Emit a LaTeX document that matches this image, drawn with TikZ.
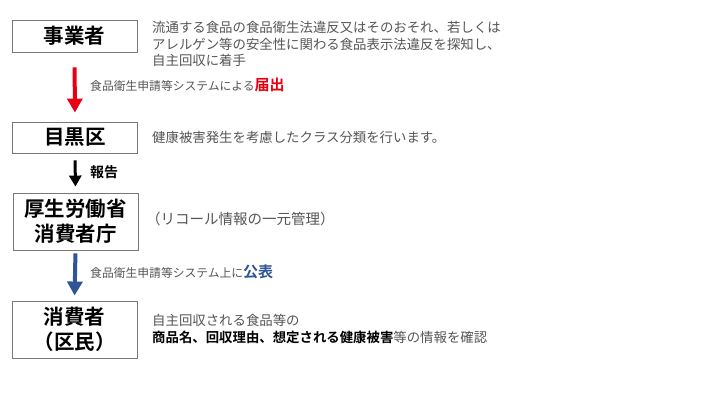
\documentclass[tikz,border=0pt]{standalone}
\usepackage{fontspec}
\setmainfont{Noto Sans CJK JP}[BoldFont={Noto Sans CJK JP Bold}]
\usepackage{tikz}
\usetikzlibrary{calc,arrows.meta}
\definecolor{txtgray}{RGB}{85,85,85}
\definecolor{boxgray}{RGB}{120,120,120}
\definecolor{todokered}{RGB}{230,0,18}
\definecolor{koublue}{RGB}{47,85,151}

\begin{document}
\begin{tikzpicture}[x=1pt,y=-1pt,
        orgbox/.style={draw=boxgray,line width=0.9pt,minimum width=125pt,
            font=\fontsize{20.5}{25}\selectfont\bfseries,align=center,inner sep=0pt},
        desc/.style={anchor=west,align=left,inner sep=0pt,text=txtgray,
            font=\fontsize{13.4}{16.5}\selectfont},
        small/.style={anchor=west,inner sep=0pt,text=txtgray,
            font=\fontsize{11.8}{13}\selectfont},
        flow/.style={line width=4pt,-{Triangle[width=15pt,length=14pt]}}]
        \useasboundingbox (0,0) rectangle (720,405);
        % organisations
        \node[orgbox,minimum height=32pt] (jigyo) at (74.5,36) {事業者};
        \node[orgbox,minimum height=31pt] (meguro) at (75,137.5) {目黒区};
        \node[orgbox,minimum height=57pt] (kousei) at (75.5,221.5) {厚生労働省\\消費者庁};
        \node[orgbox,minimum height=57pt] (kumin) at (74.5,329.5) {消費者\\（区民）};
        % arrows
        \draw[flow,todokered,shorten <=15pt,shorten >=9pt] (jigyo.south) -- (meguro.north);
        \draw[flow,black,line width=3pt,-{Triangle[width=12pt,length=11pt]},
            shorten <=7pt,shorten >=6pt] (meguro.south) -- (kousei.north);
        \draw[flow,koublue,shorten <=3pt,shorten >=5pt] (kousei.south) -- (kumin.north);
        % texts
        \node[desc] (d1) at (152,44) {流通する食品の食品衛生法違反又はそのおそれ、若しくは\\
            アレルゲン等の安全性に関わる食品表示法違反を探知し、\\自主回収に着手};
        \node[small] (l1) at (90,85) {食品衛生申請等システムによる{\fontsize{15}{16}\selectfont\bfseries\color{todokered}届出}};
        \node[desc] (d2) at (152,137) {健康被害発生を考慮したクラス分類を行います。};
        \node[anchor=west,inner sep=0pt,font=\fontsize{14}{16}\selectfont\bfseries] (l2) at (90,172) {報告};
        \node[desc,font=\fontsize{14.5}{17}\selectfont] (d3) at (146,219) {（リコール情報の一元管理）};
        \node[small] (l3) at (90,272) {食品衛生申請等システム上に{\fontsize{15}{16}\selectfont\bfseries\color{koublue}公表}};
        \node[desc] (d4) at (152,329) {自主回収される食品等の\\
            {\bfseries\color{black}商品名、回収理由、想定される健康被害}等の情報を確認};
\end{tikzpicture}
\end{document}
